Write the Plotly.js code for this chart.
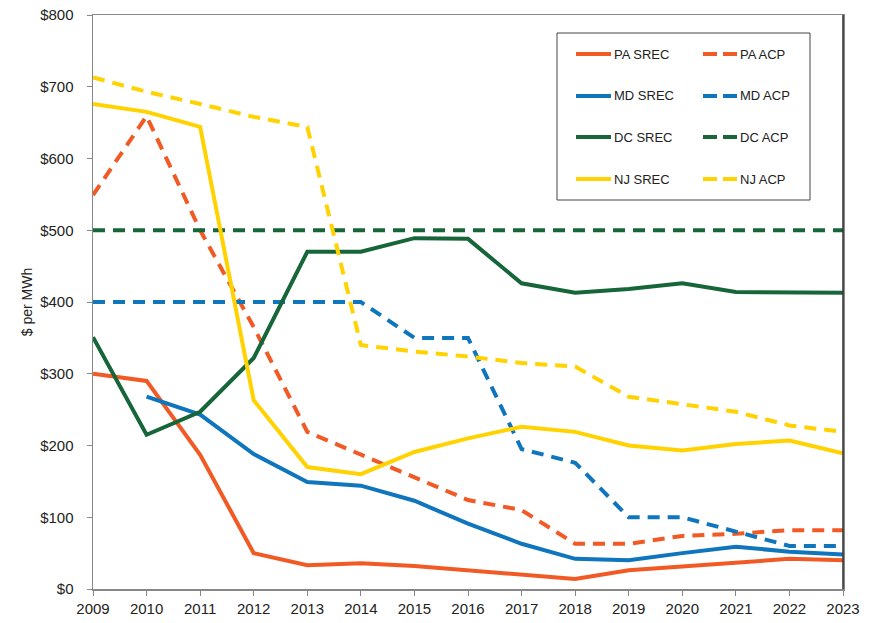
<!DOCTYPE html>
<html>
<head>
<meta charset="utf-8">
<script src="https://cdn.plot.ly/plotly-3.0.1.min.js"></script>
<style>html,body{margin:0;padding:0;background:#fff;}#chart{width:871px;height:623px;}</style>
</head>
<body>
<div id="chart"></div>
<script>
var years = [2009,2010,2011,2012,2013,2014,2015,2016,2017,2018,2019,2020,2021,2022,2023];
var paSrec = [300,290,187,50,33,36,32,26,21,14,26,31,36,42,40];
var paAcp  = [549,659,500,365,219,187,155,124,110,63,63,74,77,82,82];
var mdSrec = [null,268,243,188,149,144,123,91,63,42,40,50,59,52,48];
var mdAcp  = [400,400,400,400,400,400,350,350,195,176,100,100,80,60,60];
var dcSrec = [351,215,247,322,470,470,489,488,426,413,418,426,414,414,413];
var dcAcp  = [500,500,500,500,500,500,500,500,500,500,500,500,500,500,500];
var njSrec = [676,665,644,263,170,160,191,210,226,219,200,193,202,207,189];
var njAcp  = [713,693,676,658,644,340,331,324,315,310,268,258,247,228,219];

var names = ["PA SREC","PA ACP","MD SREC","MD ACP","DC SREC","DC ACP","NJ SREC","NJ ACP"];
var seriesList = [paSrec,paAcp,mdSrec,mdAcp,dcSrec,dcAcp,njSrec,njAcp];
var colors = ["#F15A24","#F15A24","#0F75BC","#0F75BC","#17663A","#17663A","#FFD200","#FFD200"];
var DASH = "12px,8px";
var FONT = "Liberation Sans Narrow, Arial Narrow, Liberation Sans, Arial, sans-serif";

var traces = seriesList.map(function(s,i){
  return {x: years, y: s, type: "scatter", mode: "lines", name: names[i],
    line: {color: colors[i], width: 4, dash: (i%2===1) ? DASH : "solid"},
    connectgaps: false, showlegend: false, hoverinfo: "x+y+name"};
});

// legend box (manual, paper coords)
var shapes = [];
var annotations = [];
function px2x(px){return (px-93)/750;}
function px2y(py){return (589-py)/574;}
shapes.push({type:"rect", xref:"paper", yref:"paper", x0:px2x(557), x1:px2x(810), y0:px2y(200), y1:px2y(33),
  line:{color:"#444", width:1}, fillcolor:"rgba(255,255,255,0)"});
var rowY = [54,96,137,179];
for (var i=0;i<names.length;i++){
  var r = Math.floor(i/2), c = i%2;
  var x0 = c===0 ? 576 : 703, x1 = c===0 ? 611 : 737, tx = c===0 ? 612 : 738;
  shapes.push({type:"line", xref:"paper", yref:"paper", x0:px2x(x0), x1:px2x(x1), y0:px2y(rowY[r]), y1:px2y(rowY[r]),
    line:{color:colors[i], width:4, dash: c===1 ? "14px,6px" : "solid"}});
  annotations.push({xref:"paper", yref:"paper", x:px2x(tx), y:px2y(rowY[r]), xanchor:"left", yanchor:"middle",
    text:names[i], showarrow:false, font:{family:FONT, size:13, color:"#222"}});
}
// dark right border
shapes.push({type:"line", xref:"paper", yref:"paper", x0:1, x1:1, y0:0, y1:1, line:{color:"#333", width:1.5}});

var layout = {
  width: 871, height: 623,
  margin: {l:93, r:28, t:15, b:34},
  paper_bgcolor: "#fff", plot_bgcolor: "#fff",
  showlegend: false,
  font: {family: FONT, size: 15, color: "#222"},
  xaxis: {range:[2009,2023], tickmode:"array", tickvals: years, ticktext: years.map(String),
    showgrid:false, zeroline:false, showline:true, linecolor:"#888", linewidth:1.5, mirror:true,
    ticks:"outside", ticklen:5, tickcolor:"#888", tickfont:{family:FONT, size:15, color:"#222"}},
  yaxis: {range:[0,800], dtick:100, tickprefix:"$", showgrid:false, zeroline:false,
    showline:true, linecolor:"#888", linewidth:1.5, mirror:true,
    ticks:"outside", ticklen:5, tickcolor:"#888", ticklabelstandoff:10,
    tickfont:{family:FONT, size:15, color:"#222"},
    title:{text:"$ per MWh", font:{family:FONT, size:14, color:"#222"}, standoff:4}},
  shapes: shapes,
  annotations: annotations
};
Plotly.newPlot("chart", traces, layout, {displayModeBar:false, staticPlot:true});
</script>
</body>
</html>
